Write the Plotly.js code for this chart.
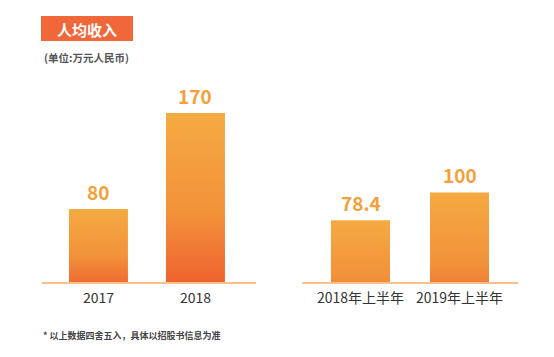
<!DOCTYPE html>
<html>
<head>
<meta charset="utf-8">
<script src="https://cdn.plot.ly/plotly-3.0.1.min.js"></script>
<style>
html,body{margin:0;padding:0;background:#fff;}
#chart{width:554px;height:357px;}
</style>
</head>
<body>
<div id="chart"></div>
<script>
// ---- data ----
var annualCategories = ['2017', '2018'];
var annualValues = [80, 170];
var halfCategories = ['2018年上半年', '2019年上半年'];
var halfValues = [78.4, 100];
var titleText = '人均收入';
var unitText = '(单位:万元人民币)';
var noteText = '* 以上数据四舍五入，具体以招股书信息为准';

// ---- layout helpers (pixel -> paper) ----
var W = 554, H = 357;
function px(x){ return x / W; }
function py(y){ return (H - y) / H; }

var FONT = '"Noto Sans CJK SC", "Noto Sans", sans-serif';
var LABEL_COLOR = '#F5A03A';

var traces = [
  {type:'bar', x: annualCategories, y: annualValues, xaxis:'x', yaxis:'y',
   width:0.608, marker:{color:'#F28A38', line:{width:0}}, hoverinfo:'none', cliponaxis:true},
  {type:'bar', x: halfCategories, y: halfValues, xaxis:'x2', yaxis:'y2',
   width:0.596, marker:{color:'#F28A38', line:{width:0}}, hoverinfo:'none', cliponaxis:true}
];

var annotations = [];
annualCategories.forEach(function(c, i){
  annotations.push({xref:'x', yref:'y', x:i, y:annualValues[i], text:String(annualValues[i]),
    showarrow:false, yanchor:'bottom', yshift:2,
    font:{family:FONT, size:19, color:LABEL_COLOR, weight:'bold'}});
});
halfCategories.forEach(function(c, i){
  annotations.push({xref:'x2', yref:'y2', x:i, y:halfValues[i], text:String(halfValues[i]),
    showarrow:false, yanchor:'bottom', yshift:2,
    font:{family:FONT, size:19, color:LABEL_COLOR, weight:'bold'}});
});
annotations.push({xref:'paper', yref:'paper', x:px(87), y:py(29), text:titleText,
  showarrow:false, xanchor:'center', yanchor:'middle',
  font:{family:FONT, size:15, color:'#ffffff', weight:'bold'}});
annotations.push({xref:'paper', yref:'paper', x:px(42), y:py(58), text:unitText,
  showarrow:false, xanchor:'left', yanchor:'middle',
  font:{family:FONT, size:10.5, color:'#555555', weight:'bold'}});
annotations.push({xref:'paper', yref:'paper', x:px(41), y:py(335), text:noteText,
  showarrow:false, xanchor:'left', yanchor:'middle',
  font:{family:FONT, size:9, color:'#444444', weight:'bold'}});

var layout = {
  width: W, height: H,
  margin:{l:0, r:0, t:0, b:0},
  paper_bgcolor:'#ffffff', plot_bgcolor:'rgba(0,0,0,0)',
  showlegend:false,
  font:{family:FONT},
  xaxis:{domain:[px(42), px(256)], range:[-0.582, 1.624], type:'category',
    showline:true, linecolor:'#FCC08C', linewidth:2, showgrid:false, zeroline:false,
    ticks:'', ticklabelstandoff:2, tickfont:{family:FONT, size:14, color:'#333333'}, fixedrange:true},
  yaxis:{domain:[py(282), py(80)], range:[11.6, 200.9], visible:false, fixedrange:true},
  xaxis2:{domain:[px(302), px(518)], range:[-0.591, 1.591], type:'category', anchor:'y2',
    showline:true, linecolor:'#FCC08C', linewidth:2, showgrid:false, zeroline:false,
    ticks:'', ticklabelstandoff:2, tickfont:{family:FONT, size:14, color:'#333333'}, fixedrange:true},
  yaxis2:{domain:[py(282), py(80)], range:[30.6, 187.1], visible:false, anchor:'x2', fixedrange:true},
  shapes:[
    {type:'rect', xref:'paper', yref:'paper', x0:px(41), x1:px(133), y0:py(41), y1:py(16),
     fillcolor:'#F0683A', line:{width:0}, layer:'below'}
  ],
  annotations: annotations,
  bargap:0.4
};

Plotly.newPlot('chart', traces, layout, {staticPlot:true, displayModeBar:false}).then(function(gd){
  var svgNS = 'http://www.w3.org/2000/svg';
  var svg = gd.querySelector('svg.main-svg');
  var defs = svg.querySelector('defs') || svg.insertBefore(document.createElementNS(svgNS,'defs'), svg.firstChild);
  var grad = document.createElementNS(svgNS, 'linearGradient');
  grad.setAttribute('id', 'barGrad');
  grad.setAttribute('x1','0'); grad.setAttribute('y1','0');
  grad.setAttribute('x2','0'); grad.setAttribute('y2','1');
  [['0','#F5AA42'],['0.55','#F2923A'],['1','#EE5A2D']].forEach(function(s){
    var st = document.createElementNS(svgNS,'stop');
    st.setAttribute('offset', s[0]); st.setAttribute('stop-color', s[1]);
    grad.appendChild(st);
  });
  defs.appendChild(grad);
  gd.querySelectorAll('.barlayer .point path').forEach(function(p){
    p.style.fill = 'url(#barGrad)';
    p.style.fillOpacity = 1;
  });
});
</script>
</body>
</html>
